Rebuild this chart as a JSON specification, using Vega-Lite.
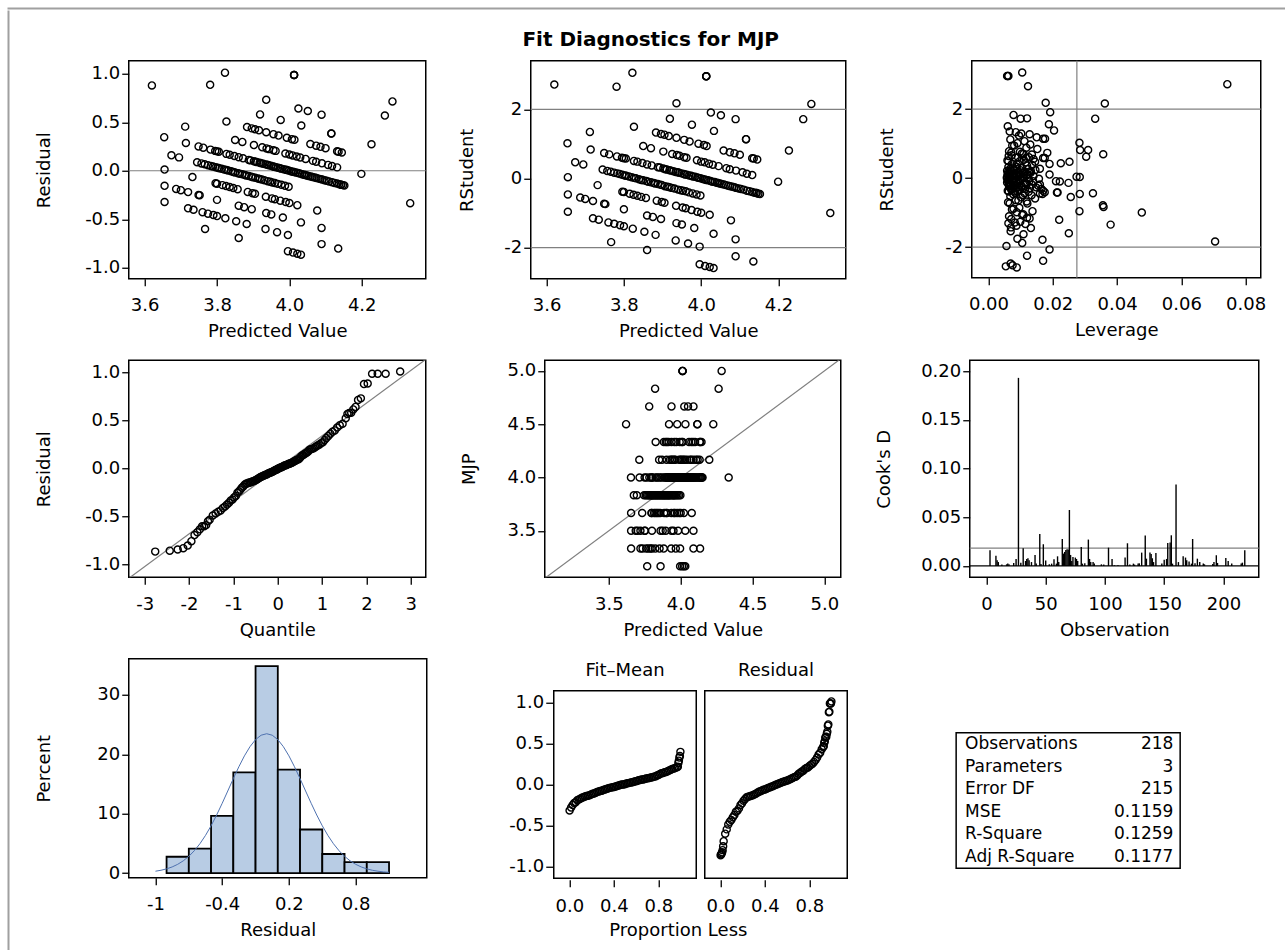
{
"$schema": "https://vega.github.io/schema/vega-lite/v6.json",
"background": "white",
"padding": {"left": 7.25, "top": 7.25, "right": 0, "bottom": 0},
"config": {
 "font": "DejaVu Sans",
 "view": {"stroke": "black", "strokeWidth": 1.5},
 "axis": {"grid": false, "domain": false, "ticks": true, "tickColor": "black", "tickSize": 7, "tickWidth": 1.3, "labelColor": "black", "labelFontSize": 18, "labelFont": "DejaVu Sans", "titleFont": "DejaVu Sans", "titleFontSize": 18, "titleFontWeight": "normal", "titleColor": "black", "labelFlush": false, "labelOverlap": false},
 "axisX": {"labelPadding": 11, "titlePadding": 8},
 "axisY": {"labelPadding": 2, "minExtent": 40, "maxExtent": 40},
 "header": {"labelFontSize": 18, "labelFont": "DejaVu Sans", "labelColor": "black", "labelPadding": 10},
 "title": {"font": "DejaVu Sans", "color": "black"},
 "point": {"shape": "circle", "filled": false, "color": "black", "size": 50, "strokeWidth": 1.4, "opacity": 1},
 "locale": {"number": {"decimal": ".", "thousands": ",", "grouping": [3], "currency": ["$", ""], "minus": "-"}}
},
"datasets": {
 "fit": [
{"p":4.013,"m":5,"r":0.987,"s":2.96,"h":0.0058},{"p":4.013,"m":5,"r":0.987,"s":2.96,"h":0.006},{"p":4.013,"m":5,"r":0.987,"s":2.96,"h":0.0062},{"p":4.285,"m":5,"r":0.715,"s":2.16,"h":0.0362},
{"p":3.822,"m":4.8333,"r":1.011,"s":3.06,"h":0.0105},{"p":4.264,"m":4.8333,"r":0.569,"s":1.72,"h":0.0332},
{"p":3.781,"m":4.6667,"r":0.886,"s":2.66,"h":0.0123},{"p":3.936,"m":4.6667,"r":0.731,"s":2.18,"h":0.0178},{"p":4.025,"m":4.6667,"r":0.642,"s":1.91,"h":0.0192},{"p":4.051,"m":4.6667,"r":0.616,"s":1.83,"h":0.0078},{"p":4.089,"m":4.6667,"r":0.578,"s":1.72,"h":0.01},
{"p":3.62,"m":4.5,"r":0.88,"s":2.72,"h":0.0743},{"p":3.919,"m":4.5,"r":0.581,"s":1.73,"h":0.012},{"p":3.976,"m":4.5,"r":0.524,"s":1.56,"h":0.0188},{"p":4.033,"m":4.5,"r":0.467,"s":1.38,"h":0.0204},{"p":4.116,"m":4.5,"r":0.384,"s":1.14,"h":0.017},{"p":4.116,"m":4.5,"r":0.384,"s":1.14,"h":0.0176},{"p":4.227,"m":4.5,"r":0.273,"s":0.81,"h":0.031},
{"p":3.826,"m":4.3333,"r":0.507,"s":1.5,"h":0.006},{"p":3.883,"m":4.3333,"r":0.45,"s":1.33,"h":0.0085},{"p":3.896,"m":4.3333,"r":0.437,"s":1.29,"h":0.0102},{"p":3.905,"m":4.3333,"r":0.428,"s":1.27,"h":0.0128},{"p":3.916,"m":4.3333,"r":0.417,"s":1.23,"h":0.0095},{"p":3.936,"m":4.3333,"r":0.397,"s":1.18,"h":0.015},{"p":3.956,"m":4.3333,"r":0.377,"s":1.12,"h":0.0068},{"p":3.97,"m":4.3333,"r":0.363,"s":1.07,"h":0.0112},{"p":3.993,"m":4.3333,"r":0.34,"s":1.01,"h":0.009},{"p":4.007,"m":4.3333,"r":0.326,"s":0.97,"h":0.013},{"p":4.014,"m":4.3333,"r":0.319,"s":0.94,"h":0.0074},{"p":4.058,"m":4.3333,"r":0.275,"s":0.81,"h":0.0285},{"p":4.074,"m":4.3333,"r":0.259,"s":0.76,"h":0.0098},{"p":4.086,"m":4.3333,"r":0.247,"s":0.73,"h":0.0183},{"p":4.1,"m":4.3333,"r":0.233,"s":0.69,"h":0.0357},{"p":4.132,"m":4.3333,"r":0.201,"s":0.59,"h":0.0117},{"p":4.136,"m":4.3333,"r":0.197,"s":0.58,"h":0.0175},{"p":4.145,"m":4.3333,"r":0.188,"s":0.55,"h":0.014},
{"p":3.712,"m":4.1667,"r":0.455,"s":1.35,"h":0.0066},{"p":3.85,"m":4.1667,"r":0.317,"s":0.94,"h":0.008},{"p":3.87,"m":4.1667,"r":0.297,"s":0.88,"h":0.0118},{"p":3.902,"m":4.1667,"r":0.265,"s":0.78,"h":0.0064},{"p":3.925,"m":4.1667,"r":0.242,"s":0.71,"h":0.0104},{"p":3.937,"m":4.1667,"r":0.23,"s":0.68,"h":0.0135},{"p":3.944,"m":4.1667,"r":0.223,"s":0.66,"h":0.0072},{"p":3.956,"m":4.1667,"r":0.211,"s":0.62,"h":0.0304},{"p":3.962,"m":4.1667,"r":0.205,"s":0.6,"h":0.0092},{"p":3.989,"m":4.1667,"r":0.178,"s":0.53,"h":0.011},{"p":4.0,"m":4.1667,"r":0.167,"s":0.49,"h":0.0062},{"p":4.009,"m":4.1667,"r":0.158,"s":0.47,"h":0.0145},{"p":4.02,"m":4.1667,"r":0.147,"s":0.43,"h":0.0225},{"p":4.03,"m":4.1667,"r":0.137,"s":0.4,"h":0.0088},{"p":4.045,"m":4.1667,"r":0.122,"s":0.36,"h":0.012},{"p":4.065,"m":4.1667,"r":0.102,"s":0.3,"h":0.0076},{"p":4.074,"m":4.1667,"r":0.093,"s":0.27,"h":0.016},{"p":4.09,"m":4.1667,"r":0.077,"s":0.23,"h":0.0099},{"p":4.107,"m":4.1667,"r":0.06,"s":0.18,"h":0.0128},{"p":4.118,"m":4.1667,"r":0.049,"s":0.14,"h":0.0067},{"p":4.132,"m":4.1667,"r":0.035,"s":0.1,"h":0.019},{"p":4.199,"m":4.1667,"r":-0.032,"s":-0.09,"h":0.021},
{"p":3.654,"m":4,"r":0.346,"s":1.02,"h":0.0283},{"p":3.714,"m":4,"r":0.286,"s":0.84,"h":0.0152},{"p":3.749,"m":4,"r":0.251,"s":0.74,"h":0.0071},{"p":3.762,"m":4,"r":0.238,"s":0.7,"h":0.0109},{"p":3.782,"m":4,"r":0.218,"s":0.64,"h":0.0063},{"p":3.795,"m":4,"r":0.205,"s":0.6,"h":0.0126},{"p":3.8,"m":4,"r":0.2,"s":0.59,"h":0.0084},{"p":3.805,"m":4,"r":0.195,"s":0.58,"h":0.017},{"p":3.826,"m":4,"r":0.174,"s":0.51,"h":0.0059},{"p":3.835,"m":4,"r":0.165,"s":0.49,"h":0.0097},{"p":3.848,"m":4,"r":0.152,"s":0.45,"h":0.0115},{"p":3.86,"m":4,"r":0.14,"s":0.41,"h":0.0073},{"p":3.872,"m":4,"r":0.128,"s":0.38,"h":0.0136},{"p":3.888,"m":4,"r":0.112,"s":0.33,"h":0.0087},{"p":3.893,"m":4,"r":0.107,"s":0.32,"h":0.0062},
{"p":3.902,"m":4,"r":0.098,"s":0.29,"h":0.0105},{"p":3.907,"m":4,"r":0.093,"s":0.27,"h":0.0068},{"p":3.911,"m":4,"r":0.089,"s":0.26,"h":0.0123},{"p":3.918,"m":4,"r":0.082,"s":0.24,"h":0.0079},{"p":3.922,"m":4,"r":0.078,"s":0.23,"h":0.0146},{"p":3.928,"m":4,"r":0.072,"s":0.21,"h":0.0058},{"p":3.934,"m":4,"r":0.066,"s":0.19,"h":0.0094},{"p":3.939,"m":4,"r":0.061,"s":0.18,"h":0.0112},{"p":3.943,"m":4,"r":0.057,"s":0.17,"h":0.007},{"p":3.949,"m":4,"r":0.051,"s":0.15,"h":0.0131},{"p":3.955,"m":4,"r":0.045,"s":0.13,"h":0.0086},{"p":3.958,"m":4,"r":0.042,"s":0.12,"h":0.0061},{"p":3.963,"m":4,"r":0.037,"s":0.11,"h":0.0101},{"p":3.969,"m":4,"r":0.031,"s":0.09,"h":0.0077},{"p":3.974,"m":4,"r":0.026,"s":0.08,"h":0.012},{"p":3.978,"m":4,"r":0.022,"s":0.06,"h":0.0065},{"p":3.984,"m":4,"r":0.016,"s":0.05,"h":0.0093},{"p":3.99,"m":4,"r":0.01,"s":0.03,"h":0.0284},{"p":3.993,"m":4,"r":0.007,"s":0.02,"h":0.0108},{"p":3.998,"m":4,"r":0.002,"s":0.01,"h":0.0057},{"p":4.004,"m":4,"r":-0.004,"s":-0.01,"h":0.0082},{"p":4.009,"m":4,"r":-0.009,"s":-0.03,"h":0.0125},{"p":4.013,"m":4,"r":-0.013,"s":-0.04,"h":0.0066},{"p":4.018,"m":4,"r":-0.018,"s":-0.05,"h":0.0098},{"p":4.024,"m":4,"r":-0.024,"s":-0.07,"h":0.006},{"p":4.029,"m":4,"r":-0.029,"s":-0.09,"h":0.0139},{"p":4.035,"m":4,"r":-0.035,"s":-0.1,"h":0.0222},{"p":4.04,"m":4,"r":-0.04,"s":-0.12,"h":0.0075},{"p":4.044,"m":4,"r":-0.044,"s":-0.13,"h":0.0113},{"p":4.048,"m":4,"r":-0.048,"s":-0.14,"h":0.0249},{"p":4.053,"m":4,"r":-0.053,"s":-0.16,"h":0.0089},{"p":4.059,"m":4,"r":-0.059,"s":-0.17,"h":0.0063},{"p":4.064,"m":4,"r":-0.064,"s":-0.19,"h":0.0118},{"p":4.07,"m":4,"r":-0.07,"s":-0.21,"h":0.008},{"p":4.075,"m":4,"r":-0.075,"s":-0.22,"h":0.0155},{"p":4.081,"m":4,"r":-0.081,"s":-0.24,"h":0.0069},{"p":4.086,"m":4,"r":-0.086,"s":-0.25,"h":0.0104},{"p":4.091,"m":4,"r":-0.091,"s":-0.27,"h":0.0091},{"p":4.097,"m":4,"r":-0.097,"s":-0.29,"h":0.0129},
{"p":4.103,"m":4,"r":-0.103,"s":-0.3,"h":0.0072},{"p":4.11,"m":4,"r":-0.11,"s":-0.32,"h":0.0165},{"p":4.118,"m":4,"r":-0.118,"s":-0.35,"h":0.0096},{"p":4.125,"m":4,"r":-0.125,"s":-0.37,"h":0.017},{"p":4.132,"m":4,"r":-0.132,"s":-0.39,"h":0.0083},{"p":4.138,"m":4,"r":-0.138,"s":-0.41,"h":0.0175},{"p":4.143,"m":4,"r":-0.143,"s":-0.42,"h":0.0213},{"p":4.143,"m":4,"r":-0.143,"s":-0.42,"h":0.0215},{"p":4.148,"m":4,"r":-0.148,"s":-0.44,"h":0.0325},{"p":4.152,"m":4,"r":-0.152,"s":-0.45,"h":0.016},{"p":4.334,"m":4,"r":-0.334,"s":-1.0,"h":0.0477},
{"p":3.674,"m":3.8333,"r":0.159,"s":0.47,"h":0.0252},{"p":3.695,"m":3.8333,"r":0.138,"s":0.41,"h":0.019},
{"p":3.745,"m":3.8333,"r":0.088,"s":0.26,"h":0.0088},{"p":3.757,"m":3.8333,"r":0.076,"s":0.22,"h":0.007},{"p":3.766,"m":3.8333,"r":0.067,"s":0.2,"h":0.0132},{"p":3.775,"m":3.8333,"r":0.058,"s":0.17,"h":0.0061},{"p":3.783,"m":3.8333,"r":0.05,"s":0.15,"h":0.0106},{"p":3.789,"m":3.8333,"r":0.044,"s":0.13,"h":0.0078},{"p":3.796,"m":3.8333,"r":0.037,"s":0.11,"h":0.0122},{"p":3.802,"m":3.8333,"r":0.031,"s":0.09,"h":0.0059},{"p":3.806,"m":3.8333,"r":0.027,"s":0.08,"h":0.0095},{"p":3.813,"m":3.8333,"r":0.02,"s":0.06,"h":0.014},{"p":3.82,"m":3.8333,"r":0.013,"s":0.04,"h":0.0067},{"p":3.826,"m":3.8333,"r":0.007,"s":0.02,"h":0.011},{"p":3.831,"m":3.8333,"r":0.002,"s":0.01,"h":0.0081},{"p":3.839,"m":3.8333,"r":-0.006,"s":-0.02,"h":0.0157},{"p":3.845,"m":3.8333,"r":-0.012,"s":-0.04,"h":0.0062},{"p":3.85,"m":3.8333,"r":-0.017,"s":-0.05,"h":0.01},{"p":3.858,"m":3.8333,"r":-0.025,"s":-0.07,"h":0.0074},{"p":3.863,"m":3.8333,"r":-0.03,"s":-0.09,"h":0.0127},{"p":3.87,"m":3.8333,"r":-0.037,"s":-0.11,"h":0.0085},{"p":3.877,"m":3.8333,"r":-0.044,"s":-0.13,"h":0.0058},{"p":3.881,"m":3.8333,"r":-0.048,"s":-0.14,"h":0.0116},{"p":3.888,"m":3.8333,"r":-0.055,"s":-0.16,"h":0.0092},{"p":3.895,"m":3.8333,"r":-0.062,"s":-0.18,"h":0.0069},{"p":3.899,"m":3.8333,"r":-0.066,"s":-0.19,"h":0.0135},{"p":3.906,"m":3.8333,"r":-0.073,"s":-0.22,"h":0.0079},{"p":3.913,"m":3.8333,"r":-0.08,"s":-0.24,"h":0.0103},{"p":3.918,"m":3.8333,"r":-0.085,"s":-0.25,"h":0.0064},{"p":3.924,"m":3.8333,"r":-0.091,"s":-0.27,"h":0.0148},{"p":3.931,"m":3.8333,"r":-0.098,"s":-0.29,"h":0.0087},
{"p":3.94,"m":3.8333,"r":-0.107,"s":-0.32,"h":0.0114},{"p":3.947,"m":3.8333,"r":-0.114,"s":-0.34,"h":0.0071},{"p":3.953,"m":3.8333,"r":-0.12,"s":-0.35,"h":0.0098},{"p":3.96,"m":3.8333,"r":-0.127,"s":-0.37,"h":0.006},{"p":3.968,"m":3.8333,"r":-0.135,"s":-0.4,"h":0.0125},{"p":3.978,"m":3.8333,"r":-0.145,"s":-0.43,"h":0.0083},{"p":3.988,"m":3.8333,"r":-0.155,"s":-0.46,"h":0.0168},{"p":3.998,"m":3.8333,"r":-0.165,"s":-0.49,"h":0.0107},
{"p":3.655,"m":3.6667,"r":0.012,"s":0.04,"h":0.0274},{"p":3.732,"m":3.6667,"r":-0.065,"s":-0.19,"h":0.016},{"p":3.796,"m":3.6667,"r":-0.129,"s":-0.38,"h":0.009},{"p":3.8,"m":3.6667,"r":-0.133,"s":-0.39,"h":0.0063},{"p":3.815,"m":3.6667,"r":-0.148,"s":-0.44,"h":0.0112},{"p":3.825,"m":3.6667,"r":-0.158,"s":-0.47,"h":0.0077},{"p":3.835,"m":3.6667,"r":-0.168,"s":-0.5,"h":0.0134},{"p":3.845,"m":3.6667,"r":-0.178,"s":-0.53,"h":0.0068},{"p":3.857,"m":3.6667,"r":-0.19,"s":-0.56,"h":0.0101},{"p":3.885,"m":3.6667,"r":-0.218,"s":-0.64,"h":0.0085},{"p":3.898,"m":3.6667,"r":-0.231,"s":-0.68,"h":0.0119},{"p":3.905,"m":3.6667,"r":-0.238,"s":-0.7,"h":0.0061},{"p":3.935,"m":3.6667,"r":-0.268,"s":-0.79,"h":0.0356},{"p":3.952,"m":3.6667,"r":-0.285,"s":-0.84,"h":0.0358},{"p":3.96,"m":3.6667,"r":-0.293,"s":-0.86,"h":0.0096},{"p":3.975,"m":3.6667,"r":-0.308,"s":-0.91,"h":0.0073},{"p":3.99,"m":3.6667,"r":-0.323,"s":-0.96,"h":0.0137},{"p":4.0,"m":3.6667,"r":-0.333,"s":-0.99,"h":0.0088},{"p":4.022,"m":3.6667,"r":-0.355,"s":-1.05,"h":0.0108},{"p":4.077,"m":3.6667,"r":-0.41,"s":-1.21,"h":0.022},
{"p":3.655,"m":3.5,"r":-0.155,"s":-0.46,"h":0.0284},{"p":3.687,"m":3.5,"r":-0.187,"s":-0.55,"h":0.0256},{"p":3.7,"m":3.5,"r":-0.2,"s":-0.59,"h":0.0145},{"p":3.72,"m":3.5,"r":-0.22,"s":-0.65,"h":0.0093},{"p":3.749,"m":3.5,"r":-0.249,"s":-0.73,"h":0.0066},{"p":3.752,"m":3.5,"r":-0.252,"s":-0.74,"h":0.0121},{"p":3.8,"m":3.5,"r":-0.3,"s":-0.89,"h":0.0078},{"p":3.86,"m":3.5,"r":-0.36,"s":-1.07,"h":0.0105},{"p":3.875,"m":3.5,"r":-0.375,"s":-1.11,"h":0.0064},{"p":3.896,"m":3.5,"r":-0.396,"s":-1.17,"h":0.0128},{"p":3.936,"m":3.5,"r":-0.436,"s":-1.29,"h":0.0082},{"p":3.95,"m":3.5,"r":-0.45,"s":-1.33,"h":0.0115},{"p":3.982,"m":3.5,"r":-0.482,"s":-1.43,"h":0.007},{"p":4.032,"m":3.5,"r":-0.532,"s":-1.6,"h":0.025},{"p":4.089,"m":3.5,"r":-0.589,"s":-1.76,"h":0.009},
{"p":3.655,"m":3.3333,"r":-0.322,"s":-0.96,"h":0.0283},{"p":3.72,"m":3.3333,"r":-0.387,"s":-1.15,"h":0.012},{"p":3.735,"m":3.3333,"r":-0.402,"s":-1.19,"h":0.0071},{"p":3.76,"m":3.3333,"r":-0.427,"s":-1.27,"h":0.0099},{"p":3.775,"m":3.3333,"r":-0.442,"s":-1.31,"h":0.0062},{"p":3.79,"m":3.3333,"r":-0.457,"s":-1.35,"h":0.038},{"p":3.8,"m":3.3333,"r":-0.467,"s":-1.38,"h":0.0087},{"p":3.823,"m":3.3333,"r":-0.49,"s":-1.45,"h":0.0132},{"p":3.853,"m":3.3333,"r":-0.52,"s":-1.54,"h":0.0069},{"p":3.882,"m":3.3333,"r":-0.549,"s":-1.63,"h":0.0109},{"p":3.934,"m":3.3333,"r":-0.601,"s":-1.79,"h":0.0168},{"p":3.966,"m":3.3333,"r":-0.633,"s":-1.88,"h":0.0105},{"p":3.996,"m":3.3333,"r":-0.663,"s":-1.97,"h":0.0056},{"p":4.089,"m":3.3333,"r":-0.756,"s":-2.25,"h":0.012},{"p":4.135,"m":3.3333,"r":-0.802,"s":-2.4,"h":0.017},
{"p":3.767,"m":3.1667,"r":-0.6,"s":-1.84,"h":0.0705},{"p":3.86,"m":3.1667,"r":-0.693,"s":-2.07,"h":0.019},{"p":3.996,"m":3.1667,"r":-0.829,"s":-2.48,"h":0.0069},{"p":4.01,"m":3.1667,"r":-0.843,"s":-2.53,"h":0.0075},{"p":4.022,"m":3.1667,"r":-0.855,"s":-2.56,"h":0.0054},{"p":4.032,"m":3.1667,"r":-0.865,"s":-2.59,"h":0.0088}
 ],
 "qq": [
{"q":-2.763,"r":-0.865},{"q":-2.435,"r":-0.855},{"q":-2.256,"r":-0.843},{"q":-2.13,"r":-0.829},{"q":-2.03,"r":-0.802},{"q":-1.947,"r":-0.756},{"q":-1.876,"r":-0.693},{"q":-1.813,"r":-0.663},{"q":-1.756,"r":-0.633},{"q":-1.705,"r":-0.601},{"q":-1.658,"r":-0.6},{"q":-1.614,"r":-0.589},{"q":-1.573,"r":-0.549},{"q":-1.535,"r":-0.532},{"q":-1.464,"r":-0.49},{"q":-1.4,"r":-0.467},{"q":-1.341,"r":-0.45},{"q":-1.287,"r":-0.436},{"q":-1.236,"r":-0.41},{"q":-1.189,"r":-0.396},{"q":-1.143,"r":-0.375},{"q":-1.099,"r":-0.355},{"q":-1.059,"r":-0.333},{"q":-1.019,"r":-0.322},{"q":-0.981,"r":-0.3},{"q":-0.945,"r":-0.285},{"q":-0.909,"r":-0.252},{"q":-0.875,"r":-0.238},{"q":-0.842,"r":-0.22},{"q":-0.81,"r":-0.2},{"q":-0.778,"r":-0.187},{"q":-0.747,"r":-0.168},{"q":-0.717,"r":-0.158},{"q":-0.688,"r":-0.155},{"q":-0.659,"r":-0.148},{"q":-0.631,"r":-0.145},{"q":-0.603,"r":-0.143},{"q":-0.576,"r":-0.135},{"q":-0.549,"r":-0.132},{"q":-0.522,"r":-0.127},{"q":-0.496,"r":-0.12},{"q":-0.471,"r":-0.114},{"q":-0.445,"r":-0.107},{"q":-0.42,"r":-0.098},{"q":-0.395,"r":-0.091},{"q":-0.37,"r":-0.086},{"q":-0.346,"r":-0.081},{"q":-0.321,"r":-0.075},{"q":-0.297,"r":-0.07},{"q":-0.273,"r":-0.065},{"q":-0.249,"r":-0.062},{"q":-0.226,"r":-0.055},{"q":-0.202,"r":-0.048},{"q":-0.179,"r":-0.044},{"q":-0.156,"r":-0.04},{"q":-0.133,"r":-0.035},{"q":-0.11,"r":-0.03},{"q":-0.086,"r":-0.025},{"q":-0.063,"r":-0.018},{"q":-0.04,"r":-0.013},{"q":-0.017,"r":-0.009},{"q":0.006,"r":-0.004},{"q":0.017,"r":0.002},{"q":0.04,"r":0.007},{"q":0.063,"r":0.01},{"q":0.086,"r":0.013},{"q":0.11,"r":0.02},{"q":0.133,"r":0.026},{"q":0.156,"r":0.031},{"q":0.179,"r":0.035},{"q":0.202,"r":0.037},{"q":0.226,"r":0.044},{"q":0.249,"r":0.049},{"q":0.273,"r":0.051},{"q":0.297,"r":0.058},{"q":0.321,"r":0.061},{"q":0.346,"r":0.067},{"q":0.37,"r":0.076},{"q":0.395,"r":0.078},{"q":0.42,"r":0.088},{"q":0.445,"r":0.093},{"q":0.471,"r":0.098},{"q":0.496,"r":0.107},{"q":0.522,"r":0.122},{"q":0.549,"r":0.137},{"q":0.576,"r":0.14},{"q":0.603,"r":0.152},{"q":0.631,"r":0.159},{"q":0.659,"r":0.167},{"q":0.688,"r":0.178},{"q":0.717,"r":0.195},{"q":0.747,"r":0.2},{"q":0.778,"r":0.205},{"q":0.81,"r":0.211},{"q":0.842,"r":0.223},{"q":0.875,"r":0.233},{"q":0.909,"r":0.242},{"q":0.945,"r":0.251},{"q":0.981,"r":0.265},{"q":1.019,"r":0.275},{"q":1.059,"r":0.297},{"q":1.099,"r":0.319},{"q":1.143,"r":0.34},{"q":1.189,"r":0.363},{"q":1.236,"r":0.384},{"q":1.287,"r":0.397},{"q":1.341,"r":0.428},{"q":1.4,"r":0.45},{"q":1.464,"r":0.467},{"q":1.535,"r":0.524},{"q":1.573,"r":0.569},{"q":1.614,"r":0.578},{"q":1.658,"r":0.581},{"q":1.705,"r":0.616},{"q":1.756,"r":0.642},{"q":1.813,"r":0.715},{"q":1.876,"r":0.731},{"q":1.947,"r":0.88},{"q":2.03,"r":0.886},{"q":2.13,"r":0.987},{"q":2.256,"r":0.987},{"q":2.435,"r":0.987},{"q":2.763,"r":1.011}
 ],
 "cook": [
{"obs":3,"d":0.0161},{"obs":8,"d":0.0106},{"obs":9,"d":0.0058},{"obs":10,"d":0.004},{"obs":13,"d":0.0014},{"obs":17,"d":0.0017},{"obs":18,"d":0.0024},{"obs":19,"d":0.0017},{"obs":23,"d":0.003},{"obs":25,"d":0.0072},{"obs":27,"d":0.1932},{"obs":29,"d":0.0034},{"obs":31,"d":0.0182},{"obs":33,"d":0.0051},{"obs":34,"d":0.0072},{"obs":35,"d":0.0079},{"obs":36,"d":0.0058},{"obs":38,"d":0.004},{"obs":41,"d":0.0113},{"obs":42,"d":0.0024},{"obs":45,"d":0.0329},{"obs":46,"d":0.002},{"obs":48,"d":0.0223},{"obs":50,"d":0.0055},{"obs":53,"d":0.0017},{"obs":55,"d":0.0024},{"obs":57,"d":0.0068},{"obs":59,"d":0.0024},{"obs":60,"d":0.0099},{"obs":61,"d":0.004},{"obs":64,"d":0.0277},{"obs":65,"d":0.0127},{"obs":66,"d":0.0144},{"obs":67,"d":0.0164},{"obs":68,"d":0.0171},{"obs":69,"d":0.0168},{"obs":70,"d":0.0575},{"obs":71,"d":0.0113},{"obs":72,"d":0.0051},{"obs":73,"d":0.0092},{"obs":75,"d":0.0086},{"obs":76,"d":0.0072},{"obs":77,"d":0.0051},{"obs":80,"d":0.0195},{"obs":81,"d":0.0024},{"obs":83,"d":0.0027},{"obs":86,"d":0.0271},{"obs":87,"d":0.0072},{"obs":88,"d":0.004},{"obs":90,"d":0.004},{"obs":91,"d":0.0024},{"obs":97,"d":0.0017},{"obs":99,"d":0.0014},{"obs":103,"d":0.0188},{"obs":106,"d":0.0072},{"obs":108,"d":0.0007},{"obs":111,"d":0.0007},{"obs":117,"d":0.0086},{"obs":119,"d":0.0233},{"obs":121,"d":0.0014},{"obs":124,"d":0.0024},{"obs":125,"d":0.0014},{"obs":128,"d":0.0024},{"obs":129,"d":0.0027},{"obs":131,"d":0.0137},{"obs":134,"d":0.0312},{"obs":135,"d":0.0075},{"obs":138,"d":0.0137},{"obs":139,"d":0.0123},{"obs":140,"d":0.0079},{"obs":141,"d":0.004},{"obs":143,"d":0.0134},{"obs":148,"d":0.0024},{"obs":150,"d":0.0065},{"obs":152,"d":0.0072},{"obs":153,"d":0.0236},{"obs":155,"d":0.024},{"obs":156,"d":0.0315},{"obs":157,"d":0.0024},{"obs":160,"d":0.0836},{"obs":162,"d":0.004},{"obs":166,"d":0.0099},{"obs":168,"d":0.0086},{"obs":169,"d":0.0058},{"obs":171,"d":0.0045},{"obs":173,"d":0.0024},{"obs":174,"d":0.0277},{"obs":176,"d":0.0027},{"obs":178,"d":0.0075},{"obs":180,"d":0.004},{"obs":183,"d":0.0024},{"obs":184,"d":0.0017},{"obs":191,"d":0.002},{"obs":192,"d":0.004},{"obs":194,"d":0.011},{"obs":195,"d":0.0031},{"obs":202,"d":0.0082},{"obs":204,"d":0.0051},{"obs":207,"d":0.0024},{"obs":215,"d":0.0024},{"obs":216,"d":0.0034},{"obs":218,"d":0.0161}
 ],
 "hist": [
{"b0":-0.9,"b1":-0.7,"pct":2.75},{"b0":-0.7,"b1":-0.5,"pct":4.13},{"b0":-0.5,"b1":-0.3,"pct":9.63},{"b0":-0.3,"b1":-0.1,"pct":16.97},{"b0":-0.1,"b1":0.1,"pct":34.86},{"b0":0.1,"b1":0.3,"pct":17.43},{"b0":0.3,"b1":0.5,"pct":7.34},{"b0":0.5,"b1":0.7,"pct":3.21},{"b0":0.7,"b1":0.9,"pct":1.83},{"b0":0.9,"b1":1.1,"pct":1.83}
 ],
 "curve": [
{"x":-1.0,"y":0.311},{"x":-0.95,"y":0.473},{"x":-0.9,"y":0.706},{"x":-0.85,"y":1.031},{"x":-0.8,"y":1.473},{"x":-0.75,"y":2.06},{"x":-0.7,"y":2.819},{"x":-0.65,"y":3.775},{"x":-0.6,"y":4.946},{"x":-0.55,"y":6.343},{"x":-0.5,"y":7.96},{"x":-0.45,"y":9.775},{"x":-0.4,"y":11.75},{"x":-0.35,"y":13.82},{"x":-0.3,"y":15.9},{"x":-0.25,"y":17.91},{"x":-0.2,"y":19.74},{"x":-0.15,"y":21.29},{"x":-0.1,"y":22.48},{"x":-0.05,"y":23.22},{"x":0,"y":23.47},{"x":0.05,"y":23.22},{"x":0.1,"y":22.48},{"x":0.15,"y":21.29},{"x":0.2,"y":19.74},{"x":0.25,"y":17.91},{"x":0.3,"y":15.9},{"x":0.35,"y":13.82},{"x":0.4,"y":11.75},{"x":0.45,"y":9.775},{"x":0.5,"y":7.96},{"x":0.55,"y":6.343},{"x":0.6,"y":4.946},{"x":0.65,"y":3.775},{"x":0.7,"y":2.819},{"x":0.75,"y":2.06},{"x":0.8,"y":1.473},{"x":0.85,"y":1.031},{"x":0.9,"y":0.706},{"x":0.95,"y":0.473},{"x":1.0,"y":0.311},{"x":1.05,"y":0.199},{"x":1.1,"y":0.125}
 ],
 "spread": [
{"g":"Fit–Mean","q":0.0023,"v":-0.318},{"g":"Fit–Mean","q":0.0161,"v":-0.283},{"g":"Fit–Mean","q":0.0298,"v":-0.251},{"g":"Fit–Mean","q":0.0436,"v":-0.226},{"g":"Fit–Mean","q":0.0573,"v":-0.218},{"g":"Fit–Mean","q":0.0711,"v":-0.193},{"g":"Fit–Mean","q":0.0849,"v":-0.186},{"g":"Fit–Mean","q":0.0986,"v":-0.176},{"g":"Fit–Mean","q":0.1124,"v":-0.163},{"g":"Fit–Mean","q":0.1261,"v":-0.156},{"g":"Fit–Mean","q":0.1399,"v":-0.148},{"g":"Fit–Mean","q":0.1537,"v":-0.142},{"g":"Fit–Mean","q":0.1674,"v":-0.138},{"g":"Fit–Mean","q":0.1812,"v":-0.133},{"g":"Fit–Mean","q":0.195,"v":-0.123},{"g":"Fit–Mean","q":0.2087,"v":-0.115},{"g":"Fit–Mean","q":0.2225,"v":-0.112},{"g":"Fit–Mean","q":0.2362,"v":-0.103},{"g":"Fit–Mean","q":0.25,"v":-0.093},{"g":"Fit–Mean","q":0.2638,"v":-0.088},{"g":"Fit–Mean","q":0.2775,"v":-0.081},{"g":"Fit–Mean","q":0.2913,"v":-0.078},{"g":"Fit–Mean","q":0.305,"v":-0.068},{"g":"Fit–Mean","q":0.3188,"v":-0.063},{"g":"Fit–Mean","q":0.3326,"v":-0.056},{"g":"Fit–Mean","q":0.3463,"v":-0.05},{"g":"Fit–Mean","q":0.3601,"v":-0.043},{"g":"Fit–Mean","q":0.3739,"v":-0.04},{"g":"Fit–Mean","q":0.3876,"v":-0.036},{"g":"Fit–Mean","q":0.4014,"v":-0.032},{"g":"Fit–Mean","q":0.4151,"v":-0.025},{"g":"Fit–Mean","q":0.4289,"v":-0.02},{"g":"Fit–Mean","q":0.4427,"v":-0.014},{"g":"Fit–Mean","q":0.4564,"v":-0.007},{"g":"Fit–Mean","q":0.4702,"v":-0.003},{"g":"Fit–Mean","q":0.4839,"v":-0.002},{"g":"Fit–Mean","q":0.4977,"v":0.002},{"g":"Fit–Mean","q":0.5115,"v":0.009},{"g":"Fit–Mean","q":0.5252,"v":0.014},{"g":"Fit–Mean","q":0.539,"v":0.018},{"g":"Fit–Mean","q":0.5528,"v":0.022},{"g":"Fit–Mean","q":0.5665,"v":0.025},{"g":"Fit–Mean","q":0.5803,"v":0.031},{"g":"Fit–Mean","q":0.594,"v":0.037},{"g":"Fit–Mean","q":0.6078,"v":0.04},{"g":"Fit–Mean","q":0.6216,"v":0.05},{"g":"Fit–Mean","q":0.6353,"v":0.052},{"g":"Fit–Mean","q":0.6491,"v":0.058},{"g":"Fit–Mean","q":0.6628,"v":0.06},{"g":"Fit–Mean","q":0.6766,"v":0.066},{"g":"Fit–Mean","q":0.6904,"v":0.072},{"g":"Fit–Mean","q":0.7041,"v":0.075},{"g":"Fit–Mean","q":0.7179,"v":0.076},{"g":"Fit–Mean","q":0.7317,"v":0.084},{"g":"Fit–Mean","q":0.7454,"v":0.087},{"g":"Fit–Mean","q":0.7592,"v":0.094},{"g":"Fit–Mean","q":0.7729,"v":0.097},{"g":"Fit–Mean","q":0.7867,"v":0.107},{"g":"Fit–Mean","q":0.8005,"v":0.115},{"g":"Fit–Mean","q":0.8142,"v":0.126},{"g":"Fit–Mean","q":0.828,"v":0.136},{"g":"Fit–Mean","q":0.8417,"v":0.139},{"g":"Fit–Mean","q":0.8555,"v":0.148},{"g":"Fit–Mean","q":0.8693,"v":0.151},{"g":"Fit–Mean","q":0.883,"v":0.159},{"g":"Fit–Mean","q":0.8968,"v":0.169},{"g":"Fit–Mean","q":0.9106,"v":0.178},{"g":"Fit–Mean","q":0.9243,"v":0.187},{"g":"Fit–Mean","q":0.9381,"v":0.194},{"g":"Fit–Mean","q":0.9518,"v":0.2},{"g":"Fit–Mean","q":0.9656,"v":0.207},{"g":"Fit–Mean","q":0.9748,"v":0.214},{"g":"Fit–Mean","q":0.9794,"v":0.261},{"g":"Fit–Mean","q":0.9839,"v":0.289},{"g":"Fit–Mean","q":0.9885,"v":0.326},{"g":"Fit–Mean","q":0.9931,"v":0.347},{"g":"Fit–Mean","q":0.9977,"v":0.396},
{"g":"Residual","q":0.0023,"v":-0.865},{"g":"Residual","q":0.0069,"v":-0.855},{"g":"Residual","q":0.0115,"v":-0.843},{"g":"Residual","q":0.0161,"v":-0.829},{"g":"Residual","q":0.0206,"v":-0.802},{"g":"Residual","q":0.0252,"v":-0.756},{"g":"Residual","q":0.0298,"v":-0.693},{"g":"Residual","q":0.0436,"v":-0.601},{"g":"Residual","q":0.0573,"v":-0.549},{"g":"Residual","q":0.0711,"v":-0.49},{"g":"Residual","q":0.0849,"v":-0.457},{"g":"Residual","q":0.0986,"v":-0.436},{"g":"Residual","q":0.1124,"v":-0.402},{"g":"Residual","q":0.1261,"v":-0.375},{"g":"Residual","q":0.1399,"v":-0.334},{"g":"Residual","q":0.1537,"v":-0.322},{"g":"Residual","q":0.1674,"v":-0.293},{"g":"Residual","q":0.1812,"v":-0.252},{"g":"Residual","q":0.195,"v":-0.231},{"g":"Residual","q":0.2087,"v":-0.2},{"g":"Residual","q":0.2225,"v":-0.178},{"g":"Residual","q":0.2362,"v":-0.158},{"g":"Residual","q":0.25,"v":-0.152},{"g":"Residual","q":0.2638,"v":-0.145},{"g":"Residual","q":0.2775,"v":-0.138},{"g":"Residual","q":0.2913,"v":-0.132},{"g":"Residual","q":0.305,"v":-0.125},{"g":"Residual","q":0.3188,"v":-0.114},{"g":"Residual","q":0.3326,"v":-0.103},{"g":"Residual","q":0.3463,"v":-0.091},{"g":"Residual","q":0.3601,"v":-0.085},{"g":"Residual","q":0.3739,"v":-0.075},{"g":"Residual","q":0.3876,"v":-0.066},{"g":"Residual","q":0.4014,"v":-0.062},{"g":"Residual","q":0.4151,"v":-0.053},{"g":"Residual","q":0.4289,"v":-0.044},{"g":"Residual","q":0.4427,"v":-0.037},{"g":"Residual","q":0.4564,"v":-0.03},{"g":"Residual","q":0.4702,"v":-0.024},{"g":"Residual","q":0.4839,"v":-0.013},{"g":"Residual","q":0.4977,"v":-0.006},{"g":"Residual","q":0.5115,"v":0.002},{"g":"Residual","q":0.5252,"v":0.01},{"g":"Residual","q":0.539,"v":0.016},{"g":"Residual","q":0.5528,"v":0.026},{"g":"Residual","q":0.5665,"v":0.031},{"g":"Residual","q":0.5803,"v":0.037},{"g":"Residual","q":0.594,"v":0.045},{"g":"Residual","q":0.6078,"v":0.051},{"g":"Residual","q":0.6216,"v":0.06},{"g":"Residual","q":0.6353,"v":0.067},{"g":"Residual","q":0.6491,"v":0.077},{"g":"Residual","q":0.6628,"v":0.088},{"g":"Residual","q":0.6766,"v":0.093},{"g":"Residual","q":0.6904,"v":0.107},{"g":"Residual","q":0.7041,"v":0.128},{"g":"Residual","q":0.7179,"v":0.14},{"g":"Residual","q":0.7317,"v":0.158},{"g":"Residual","q":0.7454,"v":0.167},{"g":"Residual","q":0.7592,"v":0.188},{"g":"Residual","q":0.7729,"v":0.2},{"g":"Residual","q":0.7867,"v":0.205},{"g":"Residual","q":0.8005,"v":0.223},{"g":"Residual","q":0.8142,"v":0.238},{"g":"Residual","q":0.828,"v":0.251},{"g":"Residual","q":0.8417,"v":0.273},{"g":"Residual","q":0.8555,"v":0.297},{"g":"Residual","q":0.8693,"v":0.326},{"g":"Residual","q":0.883,"v":0.363},{"g":"Residual","q":0.8968,"v":0.384},{"g":"Residual","q":0.9106,"v":0.428},{"g":"Residual","q":0.9243,"v":0.455},{"g":"Residual","q":0.9289,"v":0.467},{"g":"Residual","q":0.9335,"v":0.507},{"g":"Residual","q":0.9381,"v":0.524},{"g":"Residual","q":0.9427,"v":0.569},{"g":"Residual","q":0.9472,"v":0.578},{"g":"Residual","q":0.9518,"v":0.581},{"g":"Residual","q":0.9564,"v":0.616},{"g":"Residual","q":0.961,"v":0.642},{"g":"Residual","q":0.9656,"v":0.715},{"g":"Residual","q":0.9702,"v":0.731},{"g":"Residual","q":0.9748,"v":0.88},{"g":"Residual","q":0.9794,"v":0.886},{"g":"Residual","q":0.9839,"v":0.987},{"g":"Residual","q":0.9885,"v":0.987},{"g":"Residual","q":0.9931,"v":0.987},{"g":"Residual","q":0.9977,"v":1.011}
 ],
 "stats": [
{"row":0,"label":"Observations","value":"218"},{"row":1,"label":"Parameters","value":"3"},{"row":2,"label":"Error DF","value":"215"},{"row":3,"label":"MSE","value":"0.1159"},{"row":4,"label":"R-Square","value":"0.1259"},{"row":5,"label":"Adj R-Square","value":"0.1177"}
 ],
 "none": []
},
"resolve": {"scale": {"x": "independent", "y": "independent"}},
"spacing": 0,
"vconcat": [
 {"width": 1276, "height": 0.5, "view": {"stroke": "#a0a0a0", "strokeWidth": 1.5}, "data": {"name": "none"}, "mark": "point"},
 {"spacing": 24.5, "resolve": {"scale": {"x": "independent", "y": "independent"}}, "hconcat": [
  {"width": 0.5, "height": 938, "view": {"stroke": "#a0a0a0", "strokeWidth": 1.5}, "data": {"name": "none"}, "mark": "point"},
  {"spacing": 17.5, "resolve": {"scale": {"x": "independent", "y": "independent"}}, "vconcat": [
   {"width": 1, "height": 0.5, "view": {"stroke": null}, "data": {"name": "none"}, "mark": "point"},
   {"spacing": 30, "resolve": {"scale": {"x": "independent", "y": "independent"}},
    "title": {"text": "Fit Diagnostics for MJP", "fontSize": 20, "fontWeight": "bold", "anchor": "middle", "offset": 9.5, "color": "black"},
    "hconcat": [
    {"width": 297, "height": 218, "layer": [
     {"data": {"values": [{}]}, "mark": {"type": "rule", "color": "#808080", "strokeWidth": 1.2}, "encoding": {"y": {"datum": 0, "type": "quantitative"}}},
     {"data": {"name": "fit"}, "mark": {"type": "point"}, "encoding": {
       "x": {"field": "p", "type": "quantitative", "scale": {"domain": [3.556, 4.377], "nice": false, "zero": false}, "axis": {"values": [3.6, 3.8, 4.0, 4.2], "format": ".1f", "title": "Predicted Value"}},
       "y": {"field": "r", "type": "quantitative", "scale": {"domain": [-1.113, 1.134], "nice": false, "zero": false}, "axis": {"values": [-1, -0.5, 0, 0.5, 1], "format": ".1f", "title": "Residual", "titlePadding": 35}}}}
    ]},
    {"width": 315, "height": 218, "layer": [
     {"data": {"values": [{}]}, "mark": {"type": "rule", "color": "#808080", "strokeWidth": 1.2}, "encoding": {"y": {"datum": 2, "type": "quantitative"}}},
     {"data": {"values": [{}]}, "mark": {"type": "rule", "color": "#808080", "strokeWidth": 1.2}, "encoding": {"y": {"datum": -2, "type": "quantitative"}}},
     {"data": {"name": "fit"}, "mark": {"type": "point"}, "encoding": {
       "x": {"field": "p", "type": "quantitative", "scale": {"domain": [3.559, 4.374], "nice": false, "zero": false}, "axis": {"values": [3.6, 3.8, 4.0, 4.2], "format": ".1f", "title": "Predicted Value"}},
       "y": {"field": "s", "type": "quantitative", "scale": {"domain": [-2.9, 3.41], "nice": false, "zero": false}, "axis": {"values": [-2, 0, 2], "format": "d", "title": "RStudent", "titlePadding": 14}}}}
    ]},
    {"width": 289, "height": 217, "layer": [
     {"data": {"values": [{}]}, "mark": {"type": "rule", "color": "#808080", "strokeWidth": 1.2}, "encoding": {"y": {"datum": 2, "type": "quantitative"}}},
     {"data": {"values": [{}]}, "mark": {"type": "rule", "color": "#808080", "strokeWidth": 1.2}, "encoding": {"y": {"datum": -2, "type": "quantitative"}}},
     {"data": {"values": [{}]}, "mark": {"type": "rule", "color": "#808080", "strokeWidth": 1.2}, "encoding": {"x": {"datum": 0.0275, "type": "quantitative"}}},
     {"data": {"name": "fit"}, "mark": {"type": "point"}, "encoding": {
       "x": {"field": "h", "type": "quantitative", "scale": {"domain": [-0.0052, 0.0847], "nice": false, "zero": false}, "axis": {"values": [0, 0.02, 0.04, 0.06, 0.08], "format": ".2f", "title": "Leverage"}},
       "y": {"field": "s", "type": "quantitative", "scale": {"domain": [-2.89, 3.4], "nice": false, "zero": false}, "axis": {"values": [-2, 0, 2], "format": "d", "title": "RStudent", "titlePadding": 35}}}}
    ]}
   ]},
   {"spacing": 33, "resolve": {"scale": {"x": "independent", "y": "independent"}}, "hconcat": [
    {"width": 297, "height": 217,
     "encoding": {
       "x": {"field": "q", "type": "quantitative", "scale": {"domain": [-3.36, 3.34], "nice": false, "zero": false}, "axis": {"values": [-3, -2, -1, 0, 1, 2, 3], "format": "d", "title": "Quantile"}},
       "y": {"field": "r", "type": "quantitative", "scale": {"domain": [-1.132, 1.128], "nice": false, "zero": false}, "axis": {"values": [-1, -0.5, 0, 0.5, 1], "format": ".1f", "title": "Residual", "titlePadding": 35}}},
     "layer": [
      {"data": {"values": [{"q": -3.5, "r": -1.191}, {"q": 3.5, "r": 1.191}]}, "mark": {"type": "line", "color": "#808080", "strokeWidth": 1.2, "clip": true}},
      {"data": {"name": "qq"}, "mark": {"type": "point"}}
     ]},
    {"width": 296, "height": 217,
     "encoding": {
       "x": {"field": "p", "type": "quantitative", "scale": {"domain": [3.054, 5.114], "nice": false, "zero": false}, "axis": {"values": [3.5, 4.0, 4.5, 5.0], "format": ".1f", "title": "Predicted Value"}},
       "y": {"field": "m", "type": "quantitative", "scale": {"domain": [3.064, 5.1], "nice": false, "zero": false}, "axis": {"values": [3.5, 4.0, 4.5, 5.0], "format": ".1f", "title": "MJP", "titlePadding": 26}}},
     "layer": [
      {"data": {"values": [{"p": 2.9, "m": 2.9}, {"p": 5.3, "m": 5.3}]}, "mark": {"type": "line", "color": "#808080", "strokeWidth": 1.2, "clip": true}},
      {"data": {"name": "fit"}, "mark": {"type": "point"}}
     ]},
    {"width": 289, "height": 217, "layer": [
     {"data": {"values": [{}]}, "mark": {"type": "rule", "color": "#808080", "strokeWidth": 1.2}, "encoding": {"y": {"datum": 0.01835, "type": "quantitative"}}},
     {"data": {"values": [{}]}, "mark": {"type": "rule", "color": "black", "strokeWidth": 1.3}, "encoding": {"y": {"datum": 0, "type": "quantitative"}}},
     {"data": {"name": "cook"}, "mark": {"type": "rule", "color": "black", "strokeWidth": 1.4}, "encoding": {
       "x": {"field": "obs", "type": "quantitative", "scale": {"domain": [-14.1, 229.8], "nice": false, "zero": false}, "axis": {"values": [0, 50, 100, 150, 200], "format": "d", "title": "Observation"}},
       "y": {"field": "d", "type": "quantitative", "scale": {"domain": [-0.0116, 0.2113], "nice": false, "zero": false}, "axis": {"values": [0, 0.05, 0.1, 0.15, 0.2], "format": ".2f", "title": "Cook's D", "titlePadding": 36}},
       "y2": {"datum": 0}}}
    ]}
   ]},
   {"spacing": 80, "resolve": {"scale": {"x": "independent", "y": "independent"}}, "hconcat": [
    {"width": 298, "height": 219, "layer": [
     {"data": {"name": "hist"}, "mark": {"type": "bar", "fill": "#b8cce4", "stroke": "black", "strokeWidth": 1.8}, "encoding": {
       "x": {"field": "b0", "type": "quantitative", "scale": {"domain": [-1.24, 1.439], "nice": false, "zero": false}, "axis": {"values": [-1, -0.4, 0.2, 0.8], "format": "~g", "title": "Residual"}},
       "x2": {"field": "b1"},
       "y": {"field": "pct", "type": "quantitative", "scale": {"domain": [-0.79, 36.1], "nice": false, "zero": false}, "axis": {"values": [0, 10, 20, 30], "format": "d", "title": "Percent", "titlePadding": 35}},
       "y2": {"datum": 0}}},
     {"data": {"name": "curve"}, "mark": {"type": "line", "color": "#4f72b0", "strokeWidth": 1}, "encoding": {
       "x": {"field": "x", "type": "quantitative"},
       "y": {"field": "y", "type": "quantitative"}}}
    ]},
    {"spacing": 2, "resolve": {"scale": {"x": "independent", "y": "independent"}}, "vconcat": [
     {"width": 1, "height": 0.5, "view": {"stroke": null}, "data": {"name": "none"}, "mark": "point"},
     {"data": {"name": "spread"},
      "title": {"text": "Proportion Less", "orient": "bottom", "anchor": "middle", "fontSize": 18, "fontWeight": "normal", "offset": 6, "color": "black"},
      "facet": {"column": {"field": "g", "type": "nominal", "title": null, "header": {"title": null, "labelFontSize": 18, "labelPadding": 10, "labelColor": "black"}}},
      "spacing": 6,
      "resolve": {"scale": {"x": "shared", "y": "shared"}},
      "spec": {"width": 142.5, "height": 187.6, "mark": {"type": "point"}, "encoding": {
        "x": {"field": "q", "type": "quantitative", "scale": {"domain": [-0.14, 1.14], "nice": false, "zero": false}, "axis": {"values": [0, 0.4, 0.8], "format": ".1f", "title": null}},
        "y": {"field": "v", "type": "quantitative", "scale": {"domain": [-1.146, 1.141], "nice": false, "zero": false}, "axis": {"values": [-1, -0.5, 0, 0.5, 1], "format": ".1f", "title": null}}}}}
    ]},
    {"width": 270, "height": 219, "view": {"stroke": null},
     "data": {"name": "stats"},
     "layer": [
      {"mark": {"type": "text", "align": "left", "baseline": "middle", "fontSize": 17, "color": "black"}, "encoding": {
        "x": {"datum": 0.4, "type": "quantitative", "scale": {"domain": [-1.223, 10.83], "nice": false, "zero": false}, "axis": null},
        "y": {"field": "row", "type": "quantitative", "scale": {"domain": [-3.774, 5.916], "reverse": true, "nice": false, "zero": false}, "axis": null},
        "text": {"field": "label"}}},
      {"mark": {"type": "text", "align": "right", "baseline": "middle", "fontSize": 17, "color": "black"}, "encoding": {
        "x": {"datum": 9.7, "type": "quantitative"},
        "y": {"field": "row", "type": "quantitative"},
        "text": {"field": "value"}}},
      {"data": {"values": [{}]}, "mark": {"type": "rect", "fill": "transparent", "stroke": "black", "strokeWidth": 1.5}, "encoding": {
        "x": {"datum": 0, "type": "quantitative"}, "x2": {"datum": 10},
        "y": {"datum": -0.5, "type": "quantitative"}, "y2": {"datum": 5.5}}}
     ]}
   ]}
  ]}
 ]}
]
}
